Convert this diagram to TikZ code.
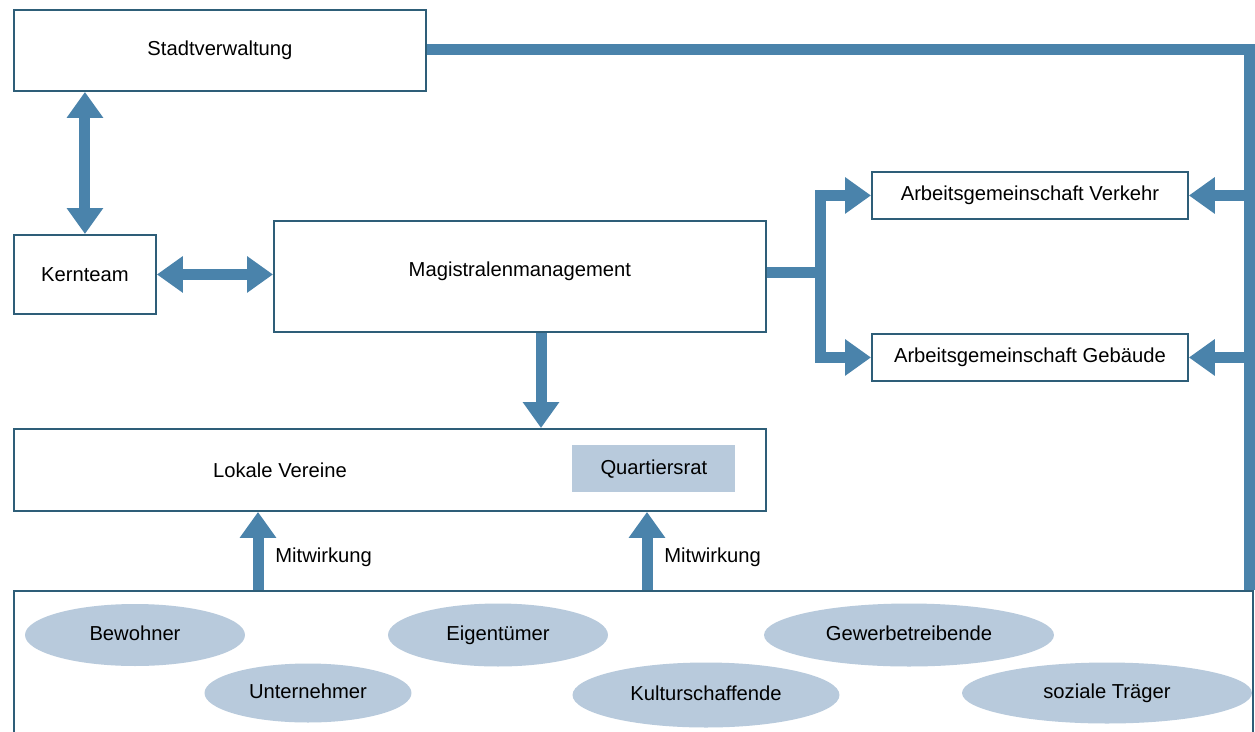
\documentclass[tikz,border=0pt]{standalone}
\usepackage{fontspec}
\setmainfont{Liberation Sans}
\usetikzlibrary{arrows.meta,shapes.geometric}
\definecolor{pfeilblau}{HTML}{4A83AB}
\definecolor{rahmen}{HTML}{2E5E78}
\definecolor{hellblau}{HTML}{B8CADC}
\begin{document}
\begin{tikzpicture}[x=0.02cm,y=-0.02cm,font=\fontsize{11.5}{13}\selectfont,
    kasten/.style={draw=rahmen,line width=1.1pt,fill=white,anchor=north west,inner sep=0pt},
    gruppe/.style={ellipse,fill=hellblau,inner sep=0pt,text height=8.5pt,text depth=2.5pt},
    leitung/.style={draw=pfeilblau,line width=0.22cm},
    pfeil/.style={leitung,-{Triangle[width=0.7cm,length=0.52cm]}},
    doppel/.style={leitung,{Triangle[width=0.7cm,length=0.52cm]}-{Triangle[width=0.7cm,length=0.52cm]}}]
    \useasboundingbox (0,0) rectangle (1255,731);
    \node[kasten,minimum width=8.24cm,minimum height=1.62cm] (stadt) at (13,9) {Stadtverwaltung};
    \node[kasten,minimum width=2.84cm,minimum height=1.58cm] (kern) at (13,234) {Kernteam};
    \node[kasten,minimum width=9.84cm,minimum height=2.22cm,text depth=0.3cm] (magistrale) at (273,220) {Magistralenmanagement};
    \node[kasten,minimum width=6.32cm,minimum height=0.94cm] (verkehr) at (871,171) {Arbeitsgemeinschaft Verkehr};
    \node[kasten,minimum width=6.32cm,minimum height=0.94cm] (gebaeude) at (871,333) {Arbeitsgemeinschaft Geb\"aude};
    \node[kasten,minimum width=15.04cm,minimum height=1.64cm] (lokal) at (13,428) {};
    \node (vereine) at (280,470) {Lokale Vereine};
    \node[fill=hellblau,anchor=north west,minimum width=3.26cm,minimum height=0.94cm] (rat) at (572,445) {Quartiersrat};
    \node[kasten,minimum width=24.78cm,minimum height=3.2cm] (basis) at (13,590) {};
    \node[gruppe,minimum width=4.4cm,minimum height=1.24cm] (bewohner) at (135,635) {Bewohner};
    \node[gruppe,minimum width=4.4cm,minimum height=1.26cm] (eigentuemer) at (498,635) {Eigent\"umer};
    \node[gruppe,minimum width=5.8cm,minimum height=1.26cm] (gewerbe) at (909,635) {Gewerbetreibende};
    \node[gruppe,minimum width=4.14cm,minimum height=1.18cm] (unternehmer) at (308,693) {Unternehmer};
    \node[gruppe,minimum width=5.34cm,minimum height=1.3cm] (kultur) at (706,695) {Kulturschaffende};
    \node[gruppe,minimum width=5.8cm,minimum height=1.22cm] (traeger) at (1107,693) {soziale Tr\"ager};
    \coordinate (ecke) at (1249,49);
    \coordinate (gabel) at (820,272);
    \coordinate (mw1) at (258,590);
    \coordinate (mw2) at (647,590);
    \draw[doppel] (stadt.south -| kern) -- (kern.north);
    \draw[doppel] (kern.east) -- (magistrale.west |- kern.east);
    \draw[pfeil] (magistrale.south -| 541,0) -- (lokal.north -| 541,0);
    \draw[leitung] (magistrale.east |- gabel) -- (gabel);
    \draw[doppel] (verkehr.west) -| (gabel) |- (gebaeude.west);
    \draw[leitung] (stadt.east |- ecke) -| (ecke |- basis.north);
    \draw[pfeil] (verkehr.east -| ecke) -- (verkehr.east);
    \draw[pfeil] (gebaeude.east -| ecke) -- (gebaeude.east);
    \draw[pfeil] (mw1) -- (mw1 |- lokal.south) node[midway,right=0.12cm,yshift=-0.12cm]{Mitwirkung};
    \draw[pfeil] (mw2) -- (mw2 |- lokal.south) node[midway,right=0.12cm,yshift=-0.12cm]{Mitwirkung};
\end{tikzpicture}
\end{document}
